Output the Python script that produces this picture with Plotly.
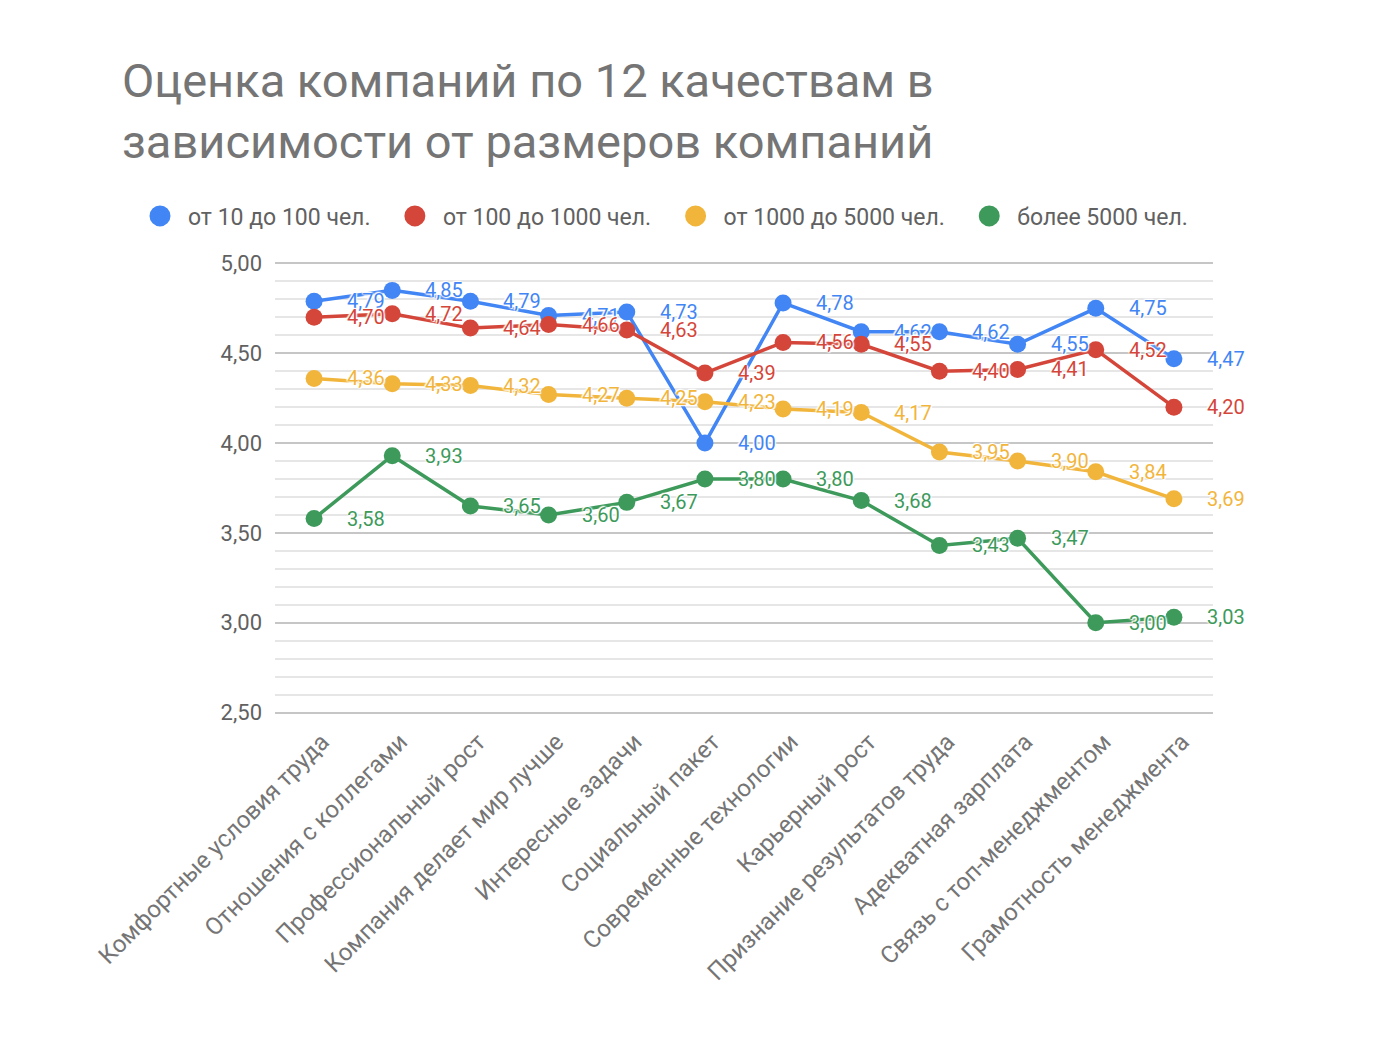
import plotly.graph_objects as go

categories = [
    "Комфортные условия труда",
    "Отношения с коллегами",
    "Профессиональный рост",
    "Компания делает мир лучше",
    "Интересные задачи",
    "Социальный пакет",
    "Современные технологии",
    "Карьерный рост",
    "Признание результатов труда",
    "Адекватная зарплата",
    "Связь с топ-менеджментом",
    "Грамотность менеджмента",
]

series_names = ["от 10 до 100 чел.", "от 100 до 1000 чел.", "от 1000 до 5000 чел.", "более 5000 чел."]

small = [4.79, 4.85, 4.79, 4.71, 4.73, 4.00, 4.78, 4.62, 4.62, 4.55, 4.75, 4.47]
medium = [4.70, 4.72, 4.64, 4.66, 4.63, 4.39, 4.56, 4.55, 4.40, 4.41, 4.52, 4.20]
large = [4.36, 4.33, 4.32, 4.27, 4.25, 4.23, 4.19, 4.17, 3.95, 3.90, 3.84, 3.69]
huge = [3.58, 3.93, 3.65, 3.60, 3.67, 3.80, 3.80, 3.68, 3.43, 3.47, 3.00, 3.03]

colors = ["#4285F4", "#D5463A", "#F2B53C", "#3D9A5B"]
all_series = [small, medium, large, huge]

FONT = "Roboto"
HALO = "0px 0px 2px white, 0px 0px 2px white, 0px 0px 3px white, 1px 1px 1px white, -1px -1px 1px white"

W, H = 1362, 1026  # page body has an 8px margin
L, R, T, B = 267, 157, 254, 320
PW, PH = W - L - R, H - T - B

fig = go.Figure()

for name, vals, col in zip(series_names, all_series, colors):
    fig.add_trace(go.Scatter(
        x=categories, y=vals, mode="lines+markers",
        line=dict(color=col, width=3.5),
        marker=dict(color=col, size=17),
        showlegend=False, hoverinfo="skip",
    ))

# legend-only entries (circles)
PAD = "\u00a0" * 2
for name, col in zip(series_names, colors):
    fig.add_trace(go.Scatter(
        x=[None], y=[None], mode="markers", name=name + PAD,
        marker=dict(color=col, size=22, line=dict(color=col, width=5)),
    ))

annotations = []
for vals, col in zip(all_series, colors):
    for cat, v in zip(categories, vals):
        annotations.append(dict(
            x=cat, y=v, xref="x", yref="y",
            text=f"{v:.2f}".replace(".", ","),
            showarrow=False, xanchor="left", yanchor="middle",
            xshift=31,
            font=dict(family=FONT, size=20, color=col, shadow=HALO),
        ))

fig.update_layout(
    width=W, height=H,
    paper_bgcolor="white", plot_bgcolor="white",
    margin=dict(l=L, r=R, t=T, b=B),
    separators=", ",
    font=dict(family=FONT, color="#757575"),
    title=dict(
        text="Оценка компаний по 12 качествам в<br>зависимости от размеров компаний",
        x=114 / W, xref="container", xanchor="left",
        y=1 - 89 / H, yref="container", yanchor="top",
        font=dict(family=FONT, size=47, color="#757575"),
    ),
    legend=dict(
        orientation="h", xref="paper", yref="paper",
        x=(124 - L) / PW, y=1 + (T - 208) / PH, xanchor="left", yanchor="middle",
        font=dict(family=FONT, size=23, color="#616161"),
        itemwidth=46,
    ),
    annotations=annotations,
)

fig.update_xaxes(
    type="category", range=[-0.5, len(categories) - 0.5],
    tickangle=-45, showgrid=False, showline=False, zeroline=False,
    tickfont=dict(family=FONT, size=24, color="#757575"),
    ticks="", ticklabelstandoff=8, ticklabelshift=8,
)
fig.update_yaxes(
    range=[2.492, 5.008], dtick=0.5, tick0=2.5, tickformat=".2f",
    gridcolor="#c6c6c6", gridwidth=1.5, zeroline=False, showline=False,
    tickfont=dict(family=FONT, size=22, color="#616161"),
    ticks="", ticklabelstandoff=12,
    minor=dict(dtick=0.1, tick0=2.5, showgrid=True, gridcolor="#e6e6e6", gridwidth=1.5),
)

fig.write_html("out.html")
